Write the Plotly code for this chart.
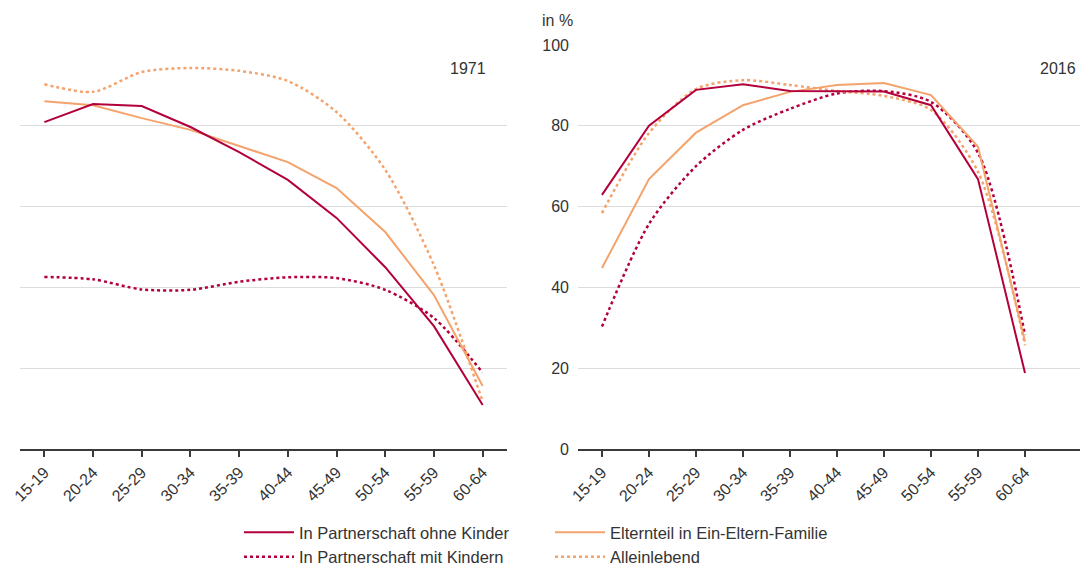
import plotly.graph_objects as go

ages = ["15-19", "20-24", "25-29", "30-34", "35-39", "40-44", "45-49", "50-54", "55-59", "60-64"]

# 1971
ohne_1971 = [80.9, 85.4, 84.9, 79.7, 73.5, 66.6, 57.2, 45.0, 30.4, 10.9]
mit_1971 = [42.6, 42.0, 39.5, 39.4, 41.4, 42.5, 42.3, 39.4, 32.4, 18.9]
eltern_1971 = [86.1, 85.1, 81.9, 79.0, 75.0, 71.0, 64.6, 53.7, 38.1, 15.6]
allein_1971 = [90.3, 88.4, 93.3, 94.3, 93.6, 91.1, 83.4, 69.1, 45.5, 11.7]

# 2016
ohne_2016 = [62.9, 80.0, 88.9, 90.3, 88.6, 88.6, 88.5, 85.1, 66.8, 18.8]
mit_2016 = [30.3, 55.7, 70.0, 79.0, 84.2, 88.0, 88.6, 85.9, 73.3, 28.2]
eltern_2016 = [44.8, 66.8, 78.3, 85.1, 88.4, 90.1, 90.6, 87.6, 74.8, 26.6]
allein_2016 = [58.4, 78.2, 89.1, 91.3, 90.1, 88.6, 87.4, 83.9, 68.6, 25.7]

names = ["In Partnerschaft ohne Kinder", "In Partnerschaft mit Kindern",
         "Elternteil in Ein-Eltern-Familie", "Alleinlebend"]
y_ticks = [0, 20, 40, 60, 80, 100]

CRIMSON = "#b3003b"
ORANGE = "#f4a36c"
FONT = "Liberation Sans"
TXT = "#333333"

W, H = 1080, 565
fig = go.Figure()

def add(x_ax, y_ax, vals, name, color, dotted, legend, show):
    fig.add_trace(go.Scatter(
        x=ages, y=vals, name=name, mode="lines",
        line=dict(color=color, width=2.5 if dotted else 2,
                  dash="dot" if dotted else "solid",
                  shape="spline" if dotted else "linear",
                  smoothing=0.8 if dotted else None),
        xaxis=x_ax, yaxis=y_ax, legend=legend, showlegend=show,
        hoverinfo="skip"))

for (xa, ya, o, m, e, a, show) in [
        ("x", "y", ohne_1971, mit_1971, eltern_1971, allein_1971, True),
        ("x2", "y2", ohne_2016, mit_2016, eltern_2016, allein_2016, False)]:
    add(xa, ya, m, names[1], CRIMSON, True, "legend", show)
    add(xa, ya, a, names[3], ORANGE, True, "legend2", show)
    add(xa, ya, e, names[2], ORANGE, False, "legend2", show)
    add(xa, ya, o, names[0], CRIMSON, False, "legend", show)

ydom = [116 / H, 1 - 45 / H]
xcommon = dict(type="category", showgrid=False, showline=True, linecolor="#3a3a3a",
               linewidth=1.5, ticks="outside", ticklen=6, tickcolor="#3a3a3a",
               tickwidth=1.5, tickangle=-45,
               tickfont=dict(family=FONT, size=16, color=TXT), zeroline=False)
ycommon = dict(range=[0, 100], tickvals=y_ticks, showgrid=True, gridcolor="#dcdcdc",
               gridwidth=1, zeroline=False, showline=False, domain=ydom,
               tickfont=dict(family=FONT, size=16, color=TXT))

legend_common = dict(xanchor="left", yanchor="top", orientation="v",
                     traceorder="reversed", font=dict(family=FONT, size=16.5, color=TXT),
                     itemwidth=50, tracegroupgap=0, bgcolor="rgba(0,0,0,0)")

fig.update_layout(
    width=W, height=H,
    margin=dict(l=0, r=0, t=0, b=0, autoexpand=False),
    paper_bgcolor="white", plot_bgcolor="white",
    font=dict(family=FONT, color=TXT),
    xaxis=dict(xcommon, domain=[20 / W, 507 / W], range=[-0.5, 9.5], anchor="y"),
    xaxis2=dict(xcommon, domain=[578 / W, 1.0], range=[-0.51, 10.17], anchor="y2"),
    yaxis=dict(ycommon, showticklabels=False, anchor="x"),
    yaxis2=dict(ycommon, showticklabels=True, anchor="x2", ticks="", ticklabelstandoff=8),
    legend=dict(legend_common, x=239 / W, y=1 - 515 / H),
    legend2=dict(legend_common, x=550 / W, y=1 - 515 / H),
    annotations=[
        dict(text="1971", x=488 / W, y=1 - 68 / H, xref="paper", yref="paper",
             xanchor="right", yanchor="middle", showarrow=False,
             font=dict(family=FONT, size=16, color=TXT)),
        dict(text="2016", x=1078 / W, y=1 - 68 / H, xref="paper", yref="paper",
             xanchor="right", yanchor="middle", showarrow=False,
             font=dict(family=FONT, size=16, color=TXT)),
        dict(text="in %", x=540 / W, y=1 - 20 / H, xref="paper", yref="paper",
             xanchor="left", yanchor="middle", showarrow=False,
             font=dict(family=FONT, size=16, color=TXT)),
    ],
)

fig.write_html("out.html", config={"displayModeBar": False},
               post_script="document.body.style.margin='0';document.body.style.overflow='hidden';")
